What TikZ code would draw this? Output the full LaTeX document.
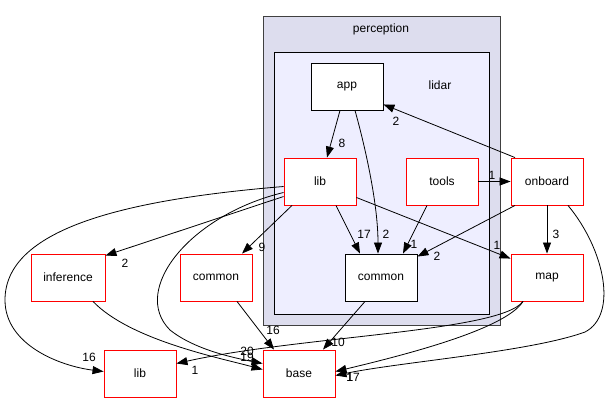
\documentclass[tikz,border=0pt]{standalone}
\usepackage{fontspec}
\setmainfont{Liberation Sans}
\usetikzlibrary{arrows.meta}

\definecolor{percfill}{HTML}{DDDDEE}
\definecolor{lidarfill}{HTML}{EEEEFF}

\begin{document}
\begin{tikzpicture}[x=1pt,y=-1pt,font=\fontsize{12}{14}\selectfont,
    dir/.style={draw=red,fill=white,line width=0.9pt,minimum width=72pt,minimum height=47pt,inner sep=0pt},
    curdir/.style={dir,draw=black},
    dep/.style={line width=0.8pt,-{Triangle[length=11pt,width=8pt]}},
    lbl/.style={inner sep=0pt,font=\fontsize{12}{14}\selectfont}]
        \useasboundingbox (0,0) rectangle (612,404);

        \draw[fill=percfill,draw=black!75,line width=0.8pt] (263,16) rectangle (500,325);
        \node at (381,29) {perception};
        \draw[fill=lidarfill,draw=black,line width=0.8pt] (274,52) rectangle (489,314);
        \node at (440,85) {lidar};

        \node[curdir] (app) at (347,86.5) {app};
        \node[dir] (liblidar) at (320,181.5) {lib};
        \node[dir] (tools) at (442,181.5) {tools};
        \node[curdir] (commonlidar) at (381,277.5) {common};
        \node[dir] (onboard) at (547,181.5) {onboard};
        \node[dir] (map) at (547,277.5) {map};
        \node[dir,minimum width=74pt] (inference) at (68,277.5) {inference};
        \node[dir] (commonperc) at (216,277.5) {common};
        \node[dir] (libmod) at (140,373.5) {lib};
        \node[dir] (base) at (299,373.5) {base};

        \draw[dep] ([xshift=-7pt]app.south) -- ([xshift=7pt]liblidar.north) node[lbl] at (342,143) {8};
        \draw[dep] ([xshift=8pt]app.south) .. controls (366,150) and (378,205) .. ([xshift=-3pt]commonlidar.north) node[lbl] at (386,234) {2};
        \draw[dep] ([xshift=-32pt]onboard.north) -- ([yshift=6pt]app.south east) node[lbl] at (396,121) {2};
        \draw[dep] (tools.east) -- (onboard.west) node[lbl] at (492,175) {1};
        \draw[dep] ([xshift=16pt]liblidar.south) -- ([xshift=-21pt]commonlidar.north) node[lbl] at (364,234) {17};
        \draw[dep] ([xshift=-15pt]tools.south) -- ([xshift=22pt]commonlidar.north) node[lbl] at (414,244) {1};
        \draw[dep] ([xshift=-32pt]onboard.south) -- ([yshift=-3pt]commonlidar.north east) node[lbl] at (437,256) {2};
        \draw[dep] ([yshift=-16pt]liblidar.east) -- ([yshift=-5pt]map.north west) node[lbl] at (497,245) {1};
        \draw[dep] (onboard.south) -- (map.north) node[lbl] at (556,234) {3};
        \draw[dep] ([xshift=-28pt]liblidar.south) -- ([xshift=26pt]commonperc.north) node[lbl] at (262,247) {9};
        \draw[dep] ([yshift=-15pt]liblidar.west) -- ([yshift=-2pt]inference.north east) node[lbl] at (125,263) {2};
        \draw[dep] ([yshift=-5pt]liblidar.west) .. controls (120,200) and (5,230) .. (5,300)
            .. controls (5,345) and (60,366) .. ([yshift=2pt]libmod.west) node[lbl] at (89,357) {16};
        \draw[dep] ([yshift=-11pt]liblidar.west) .. controls (190,215) and (130,290) .. (170,330)
            .. controls (195,350) and (235,358) .. ([yshift=10pt]base.west) node[lbl] at (247,357) {19};
        \draw[dep] ([xshift=25pt]inference.south) .. controls (130,340) and (220,358) .. ([yshift=4pt]base.west) node[lbl] at (247,351) {20};
        \draw[dep] ([xshift=21pt]commonperc.south) -- ([xshift=-25pt]base.north) node[lbl] at (273,330) {16};
        \draw[dep] ([xshift=-16pt]commonlidar.south) -- ([xshift=24pt]base.north) node[lbl] at (338,342) {10};
        \draw[dep] ([xshift=-24pt]map.south) .. controls (500,332) and (300,336) .. ([yshift=10pt]libmod.east) node[lbl] at (195,370) {1};
        \draw[dep] ([xshift=-24pt]map.south) .. controls (505,330) and (400,356) .. ([yshift=2pt]base.east) node[lbl] at (350,377) {1};
        \draw[dep] ([xshift=21pt]onboard.south) .. controls (605,250) and (618,315) .. (585,332)
            .. controls (530,352) and (400,362) .. ([yshift=-2pt]base.east) node[lbl] at (353,377) {17};
      \end{tikzpicture}
\end{document}
